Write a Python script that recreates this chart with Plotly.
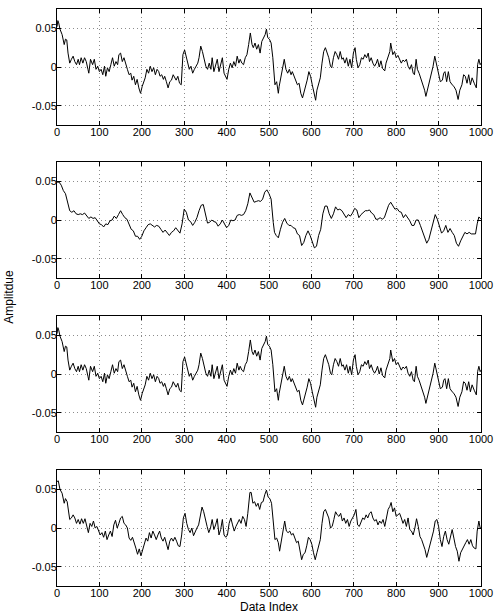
import plotly.graph_objects as go
from plotly.subplots import make_subplots

# ---------------- data ----------------
idx1 = [0, 2, 4, 7, 12, 17, 20, 23, 26, 30, 34, 38, 42, 46, 50, 53, 57, 61, 65, 69, 73, 75, 79, 84, 88,
        92, 96, 100, 104, 108, 112, 115, 119, 123, 127, 131, 135, 139, 143, 146, 150, 154, 158, 162,
        166, 170, 174, 177, 181, 185, 189, 193, 197, 201, 205, 208, 212, 216, 220, 224, 228, 232, 236,
        240, 243, 247, 251, 254, 258, 262, 266, 270, 274, 278, 281, 285, 289, 293, 297, 301, 305, 308,
        312, 316, 320, 324, 328, 332, 335, 339, 343, 347, 351, 355, 359, 363, 366, 370, 374, 378, 382,
        386, 390, 394, 398, 401, 405, 409, 413, 417, 421, 425, 429, 432, 436, 440, 444, 448, 452, 456,
        460, 463, 467, 471, 475, 479, 483, 487, 491, 494, 497, 501, 505, 509, 511, 514, 518, 522, 524,
        528, 532, 536, 540, 544, 548, 552, 555, 559, 563, 567, 571, 575, 579, 583, 586, 590, 594, 598,
        602, 606, 610, 613, 617, 621, 625, 629, 633, 637, 641, 645, 648, 652, 656, 660, 664, 668, 672,
        675, 679, 683, 687, 691, 695, 699, 703, 706, 710, 714, 718, 722, 726, 730, 734, 737, 741, 745,
        749, 753, 756, 760, 764, 768, 773, 776, 781, 785, 787, 792, 796, 800, 804, 808, 812, 816, 820,
        824, 828, 832, 836, 840, 843, 847, 850, 854, 858, 864, 867, 870, 875, 881, 887, 891, 895, 900,
        904, 909, 912, 915, 919, 923, 927, 932, 936, 941, 946, 950, 955, 959, 963, 967, 971, 975, 979,
        984, 989, 992, 995, 998, 1000]
amp1 = [0.052, 0.060, 0.057, 0.049, 0.042, 0.029, 0.036, 0.035, 0.018, 0.005, 0.010, 0.014, 0.007,
        0.003, 0.010, 0.003, 0.012, 0.005, 0.012, 0.007, -0.003, -0.008, 0.010, 0.003, 0.010, -0.003,
        0.001, -0.006, -0.003, -0.010, 0.001, -0.012, -0.001, -0.006, 0.003, 0.012, 0.001, 0.007,
        0.003, 0.016, 0.018, 0.007, 0.012, 0.003, -0.003, -0.010, -0.008, -0.017, -0.012, -0.023,
        -0.016, -0.027, -0.034, -0.025, -0.019, -0.014, -0.003, -0.008, 0.001, -0.006, -0.001, -0.010,
        -0.003, -0.006, -0.012, -0.010, -0.016, -0.012, -0.019, -0.027, -0.019, -0.017, -0.010, -0.014,
        -0.017, -0.012, -0.021, -0.023, 0.016, 0.022, 0.012, 0.003, -0.003, 0.001, -0.008, -0.003,
        0.001, 0.005, 0.012, 0.027, 0.020, 0.010, 0.001, -0.003, 0.005, -0.003, 0.012, -0.006, 0.001,
        0.010, -0.006, 0.003, 0.012, -0.008, -0.012, -0.016, -0.003, 0.005, -0.001, 0.007, 0.001,
        0.014, 0.005, 0.010, 0.005, 0.003, 0.012, 0.016, 0.029, 0.044, 0.029, 0.025, 0.031, 0.023,
        0.029, 0.018, 0.033, 0.038, 0.042, 0.049, 0.038, 0.036, 0.031, 0.012, -0.006, -0.023, -0.019,
        -0.034, -0.025, -0.012, -0.001, 0.010, -0.003, -0.008, -0.003, -0.010, -0.006, -0.012, -0.016,
        -0.023, -0.021, -0.034, -0.040, -0.032, -0.025, -0.017, -0.006, -0.012, -0.023, -0.034, -0.043,
        -0.030, -0.021, -0.014, 0.005, 0.020, 0.025, 0.018, 0.012, 0.001, -0.001, 0.012, 0.020, 0.016,
        0.010, 0.020, 0.010, 0.012, 0.005, 0.012, 0.001, 0.010, -0.001, 0.018, 0.025, 0.010, -0.001,
        0.003, 0.012, 0.010, 0.016, 0.012, 0.018, 0.007, 0.012, 0.005, 0.001, 0.005, 0.010, 0.000,
        0.008, -0.002, -0.005, 0.005, 0.012, 0.020, 0.031, 0.016, 0.020, 0.012, 0.015, 0.010, 0.005,
        0.009, 0.007, 0.010, 0.001, -0.003, 0.003, -0.008, -0.010, 0.010, -0.003, -0.008, -0.014,
        -0.023, -0.030, -0.038, -0.027, -0.012, 0.001, 0.014, 0.005, -0.006, -0.019, -0.017, -0.008,
        -0.006, -0.019, -0.006, -0.019, -0.023, -0.025, -0.030, -0.042, -0.030, -0.023, -0.010, -0.012,
        -0.021, -0.010, -0.023, -0.014, -0.021, -0.027, 0.003, 0.010, 0.003, 0.005]

idx2 = [0, 5, 10, 15, 20, 25, 30, 35, 40, 45, 50, 55, 60, 65, 70, 75, 80, 85, 90, 95, 100, 105, 110,
        115, 120, 125, 130, 135, 140, 145, 150, 155, 160, 165, 170, 175, 180, 185, 190, 195, 200, 205,
        210, 215, 220, 225, 230, 235, 240, 245, 250, 255, 260, 265, 270, 275, 280, 285, 290, 295, 300,
        305, 310, 315, 320, 325, 330, 335, 340, 345, 350, 355, 360, 365, 370, 375, 380, 385, 390, 395,
        400, 405, 410, 415, 420, 425, 430, 435, 440, 445, 450, 455, 460, 465, 470, 475, 480, 485, 490,
        495, 500, 505, 510, 513, 517, 522, 527, 532, 537, 542, 547, 552, 557, 562, 567, 572, 577, 582,
        587, 592, 597, 602, 607, 612, 617, 622, 627, 632, 637, 642, 647, 652, 657, 662, 667, 672, 677,
        682, 687, 692, 697, 702, 707, 712, 717, 722, 727, 732, 737, 742, 747, 752, 757, 762, 767, 772,
        777, 782, 787, 792, 797, 802, 807, 812, 817, 822, 827, 832, 837, 842, 847, 852, 857, 862, 867,
        872, 877, 882, 887, 892, 897, 902, 907, 912, 917, 922, 927, 932, 937, 942, 947, 952, 957, 962,
        967, 972, 977, 982, 987, 991, 995, 1000]
amp2 = [0.049, 0.049, 0.045, 0.038, 0.034, 0.023, 0.012, 0.010, 0.012, 0.008, 0.007, 0.008, 0.007,
        0.009, 0.006, 0.002, 0.004, 0.002, 0.003, -0.001, -0.005, -0.006, -0.009, -0.005, -0.006,
        -0.001, 0.000, 0.005, 0.002, 0.007, 0.012, 0.007, 0.003, 0.001, -0.007, -0.012, -0.014, -0.021,
        -0.021, -0.025, -0.021, -0.014, -0.010, -0.006, -0.005, -0.007, -0.009, -0.007, -0.008, -0.012,
        -0.016, -0.013, -0.017, -0.020, -0.016, -0.014, -0.010, -0.014, -0.017, -0.005, 0.014, 0.010,
        0.000, -0.002, -0.007, -0.003, 0.003, 0.012, 0.019, 0.020, 0.008, -0.004, -0.003, 0.000,
        -0.002, -0.003, -0.008, -0.005, 0.000, -0.006, -0.010, -0.007, 0.000, -0.001, 0.000, 0.006,
        0.007, 0.006, 0.007, 0.012, 0.021, 0.035, 0.029, 0.023, 0.024, 0.025, 0.024, 0.027, 0.036,
        0.039, 0.034, 0.027, -0.003, -0.016, -0.020, -0.023, -0.012, -0.003, 0.002, -0.004, -0.007,
        -0.007, -0.010, -0.011, -0.018, -0.020, -0.033, -0.029, -0.020, -0.014, -0.020, -0.027, -0.036,
        -0.034, -0.020, -0.012, 0.008, 0.018, 0.018, 0.008, 0.002, 0.008, 0.017, 0.013, 0.014, 0.012,
        0.008, 0.003, 0.007, 0.005, 0.009, 0.015, 0.013, 0.003, 0.007, 0.010, 0.012, 0.012, 0.013,
        0.009, 0.007, 0.001, 0.001, 0.003, 0.001, 0.003, 0.012, 0.019, 0.023, 0.018, 0.014, 0.015,
        0.011, 0.010, 0.003, 0.007, 0.003, -0.001, -0.007, -0.007, 0.000, 0.000, -0.007, -0.015,
        -0.023, -0.030, -0.025, -0.013, -0.002, 0.007, 0.001, -0.010, -0.017, -0.014, -0.007, -0.016,
        -0.011, -0.016, -0.020, -0.030, -0.034, -0.027, -0.021, -0.016, -0.018, -0.016, -0.018, -0.018,
        -0.018, -0.005, 0.004, 0.001]

# third panel shows the same trace as the first one
idx3 = list(idx1)
amp3 = list(amp1)

idx4 = [0, 3, 7, 12, 17, 20, 24, 27, 30, 34, 38, 42, 46, 50, 54, 58, 62, 66, 70, 74, 78, 82, 86, 90,
        94, 98, 102, 106, 110, 114, 118, 122, 126, 130, 134, 138, 142, 146, 150, 154, 158, 162, 166,
        170, 174, 178, 182, 186, 190, 194, 198, 202, 206, 210, 214, 218, 222, 226, 230, 234, 238, 242,
        246, 250, 254, 258, 262, 266, 270, 274, 278, 282, 286, 290, 294, 298, 302, 306, 310, 314, 318,
        322, 326, 330, 334, 338, 342, 346, 350, 354, 358, 362, 366, 370, 374, 378, 382, 386, 390, 394,
        398, 402, 406, 410, 414, 418, 422, 426, 430, 434, 438, 442, 446, 450, 455, 458, 462, 466, 470,
        474, 478, 482, 486, 490, 494, 498, 502, 506, 510, 514, 518, 522, 525, 529, 533, 537, 541, 545,
        549, 553, 557, 561, 565, 569, 573, 577, 581, 585, 589, 593, 597, 601, 605, 609, 613, 617, 621,
        625, 629, 633, 637, 641, 645, 649, 653, 657, 661, 665, 669, 673, 677, 681, 685, 689, 693, 697,
        701, 705, 709, 713, 717, 721, 725, 729, 733, 737, 741, 745, 749, 753, 757, 761, 765, 769, 773,
        777, 781, 785, 788, 792, 796, 800, 804, 808, 812, 816, 820, 824, 828, 832, 836, 840, 844, 848,
        852, 856, 860, 864, 868, 872, 876, 880, 884, 888, 892, 896, 900, 904, 908, 912, 916, 920, 924,
        928, 932, 936, 940, 944, 948, 952, 956, 960, 964, 968, 972, 976, 980, 984, 988, 991, 995, 998,
        1000]
amp4 = [0.060, 0.061, 0.050, 0.045, 0.032, 0.038, 0.034, 0.021, 0.011, 0.013, 0.017, 0.013, 0.006,
        0.011, 0.005, 0.012, 0.006, 0.012, 0.004, -0.006, 0.006, 0.002, 0.009, 0.000, 0.002, -0.004,
        -0.009, -0.006, -0.012, -0.004, -0.015, -0.009, -0.004, -0.011, 0.004, 0.010, 0.000, 0.006,
        0.013, 0.015, 0.006, 0.004, 0.000, -0.013, -0.016, -0.012, -0.021, -0.026, -0.034, -0.027,
        -0.036, -0.028, -0.019, -0.013, -0.017, -0.006, -0.013, -0.004, -0.009, -0.015, -0.009, -0.004,
        -0.013, -0.017, -0.012, -0.021, -0.028, -0.017, -0.013, -0.017, -0.012, -0.017, -0.023, -0.024,
        -0.009, 0.013, 0.019, 0.006, -0.002, -0.006, 0.000, -0.010, -0.004, 0.000, 0.004, 0.015, 0.027,
        0.021, 0.009, 0.002, -0.006, 0.000, 0.011, -0.002, 0.004, 0.012, -0.009, -0.002, 0.011, -0.009,
        -0.012, -0.009, 0.006, 0.013, 0.004, -0.004, 0.002, 0.006, 0.011, 0.006, 0.015, 0.011, 0.002,
        0.019, 0.046, 0.046, 0.032, 0.034, 0.028, 0.032, 0.024, 0.033, 0.034, 0.043, 0.049, 0.040,
        0.038, 0.032, 0.004, -0.015, -0.013, -0.019, -0.030, -0.017, -0.002, 0.009, -0.004, -0.006,
        -0.004, -0.009, -0.007, -0.014, -0.019, -0.017, -0.027, -0.041, -0.034, -0.032, -0.023, -0.012,
        -0.015, -0.021, -0.032, -0.041, -0.032, -0.021, -0.015, 0.006, 0.021, 0.024, 0.019, 0.013,
        0.000, 0.002, 0.011, 0.021, 0.017, 0.015, 0.019, 0.009, 0.013, 0.006, 0.011, 0.002, 0.009,
        0.013, 0.017, 0.024, 0.004, 0.002, 0.009, 0.013, 0.011, 0.017, 0.013, 0.019, 0.021, 0.013,
        0.009, 0.011, 0.004, 0.009, 0.006, 0.011, 0.002, 0.015, 0.024, 0.028, 0.033, 0.021, 0.026,
        0.015, 0.017, 0.019, 0.013, 0.006, 0.011, 0.002, 0.013, -0.002, -0.004, -0.009, 0.000, 0.012,
        0.002, -0.011, -0.015, -0.021, -0.028, -0.038, -0.030, -0.023, -0.015, -0.004, 0.009, 0.011,
        0.002, -0.015, -0.024, -0.011, -0.004, -0.015, -0.021, -0.009, -0.002, -0.013, -0.024, -0.030,
        -0.043, -0.032, -0.027, -0.023, -0.019, -0.015, -0.021, -0.015, -0.023, -0.026, -0.027, -0.004,
        0.009, 0.000, 0.000]

x_tick_vals = [0, 100, 200, 300, 400, 500, 600, 700, 800, 900, 1000]
y_tick_vals = [-0.05, 0, 0.05]
y_tick_text = ["-0.05", "0", "0.05"]
x_title = "Data Index"
y_title = "Amplitdue"

# ---------------- figure ----------------
W, H = 501, 616
ML, MR, MT, MB = 57, 14, 8, 30
fig = make_subplots(rows=4, cols=1)

series = [(idx1, amp1), (idx2, amp2), (idx3, amp3), (idx4, amp4)]
for r, (xs, ys) in enumerate(series, start=1):
    fig.add_trace(go.Scatter(x=xs, y=ys, mode="lines",
                             line=dict(color="black", width=1),
                             showlegend=False, hoverinfo="skip"), row=r, col=1)

plot_h = H - MT - MB
panels_px = [(9, 125), (162, 278), (316, 432), (470, 586)]  # top, bottom in page px
font = dict(family="Liberation Sans, Arial, sans-serif", size=11, color="black")
grid_style = dict(showgrid=True, gridcolor="#8c8c8c", griddash="1px,3px", gridwidth=1,
                  zeroline=False, showline=True, linecolor="black", linewidth=1,
                  mirror="ticks", ticks="inside", ticklen=4, tickcolor="black",
                  tickfont=font)

for r, (top, bot) in enumerate(panels_px, start=1):
    d0 = (H - MB - bot) / plot_h
    d1 = (H - MB - top) / plot_h
    fig.update_yaxes(row=r, col=1, domain=[max(0, d0), min(1, d1)],
                     range=[-0.075, 0.075], tickvals=y_tick_vals, ticktext=y_tick_text,
                     ticklabelstandoff=-3, **grid_style)
    fig.update_xaxes(row=r, col=1, range=[0, 1000], tickvals=x_tick_vals,
                     ticklabelstandoff=-3, **grid_style)

fig.add_annotation(text=y_title, xref="paper", yref="paper", x=-0.114, y=0.5,
                   textangle=-90, showarrow=False, xanchor="center", yanchor="middle",
                   font=dict(family="Liberation Sans, Arial, sans-serif", size=12, color="black"))
fig.add_annotation(text=x_title, xref="paper", yref="paper", x=0.5, y=(586 - 615) / plot_h,
                   showarrow=False, xanchor="center", yanchor="bottom", borderpad=0,
                   font=dict(family="Liberation Sans, Arial, sans-serif", size=12, color="black"))

fig.update_layout(width=W, height=H, margin=dict(l=ML, r=MR, t=MT, b=MB),
                  plot_bgcolor="white", paper_bgcolor="white")

fig.write_html("out.html")
